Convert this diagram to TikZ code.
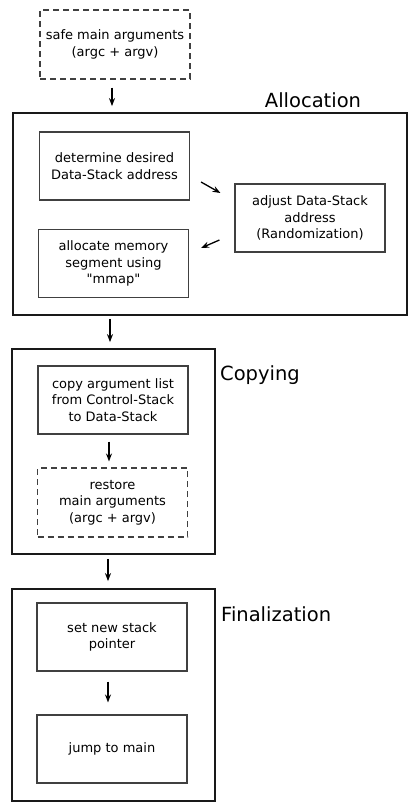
\documentclass[tikz,border=0pt]{standalone}
\usepackage{fontspec}
\setmainfont{DejaVu Sans}[Ligatures=TeXOff]
\usetikzlibrary{arrows.meta}
\begin{document}
\begin{tikzpicture}[x={(1pt,0)},y={(0,-1pt)},
  every node/.style={font=\fontsize{13}{16.7}\selectfont, inner sep=0pt},
  inbox/.style={draw=black!75, line width=1.1pt, minimum width=150pt, minimum height=68pt, align=center},
  dashbox/.style={inbox, dash pattern=on 6pt off 4pt},
  outbox/.style={draw=black!90, line width=1.8pt},
  grouplabel/.style={font=\fontsize{19.5}{22}\selectfont},
  arr/.style={-{Stealth[length=8pt,width=6pt]}, line width=1.3pt, black}]
\useasboundingbox (0,0) rectangle (411,807);

% top
\node[dashbox, minimum height=69pt] (safe) at (115,44.5) {safe main arguments\\(argc + argv)};

% Allocation
\node[outbox, minimum width=394pt, minimum height=202pt] (alloc) at (210,214) {};
\node[grouplabel] (alloclbl) at (313,100) {Allocation};
\node[inbox] (det) at (114.5,166) {determine desired\\Data-Stack address};
\node[inbox] (adj) at (310,218) {adjust Data-Stack\\address\\(Randomization)};
\node[inbox] (mem) at (113.5,263.5) {allocate memory\\segment using\\"mmap"};

% Copying
\node[outbox, minimum width=203pt, minimum height=205pt] (copying) at (113.5,451.5) {};
\node[grouplabel, anchor=west] (copylbl) at (220,375) {Copying};
\node[inbox] (copy) at (113,400) {copy argument list\\from Control-Stack\\to Data-Stack};
\node[dashbox, minimum height=69pt] (restore) at (112.5,502.5) {restore\\main arguments\\(argc + argv)};

% Finalization
\node[outbox, minimum width=203pt, minimum height=212pt] (final) at (113.5,695) {};
\node[grouplabel, anchor=west] (finlbl) at (221,614) {Finalization};
\node[inbox] (setsp) at (112,637) {set new stack\\pointer};
\node[inbox] (jump) at (112,749) {jump to main};

% arrows
\draw[arr] ([xshift=-3pt]safe.south) ++(0,8) -- ([xshift=-3pt,yshift=6pt]safe.south |- alloc.north);
\draw[arr] ([xshift=11pt,yshift=-16pt]det.east) -- ([xshift=-14pt,yshift=25pt]adj.west);
\draw[arr] ([xshift=-15pt,yshift=-22pt]adj.west) -- ([xshift=12pt,yshift=15.5pt]mem.east);
\draw[arr] ([xshift=-3.5pt,yshift=-3pt]alloc.south -| copying.north) -- ([xshift=-3.5pt,yshift=6pt]copying.north);
\draw[arr] ([xshift=-4pt,yshift=-7pt]copy.south) -- ([xshift=-3.5pt,yshift=6pt]restore.north);
\draw[arr] ([xshift=-5.5pt,yshift=-4pt]copying.south) -- ([xshift=-5.5pt,yshift=7pt]final.north);
\draw[arr] ([xshift=-4pt,yshift=-10pt]setsp.south) -- ([xshift=-4pt,yshift=12pt]jump.north);
\end{tikzpicture}
\end{document}
